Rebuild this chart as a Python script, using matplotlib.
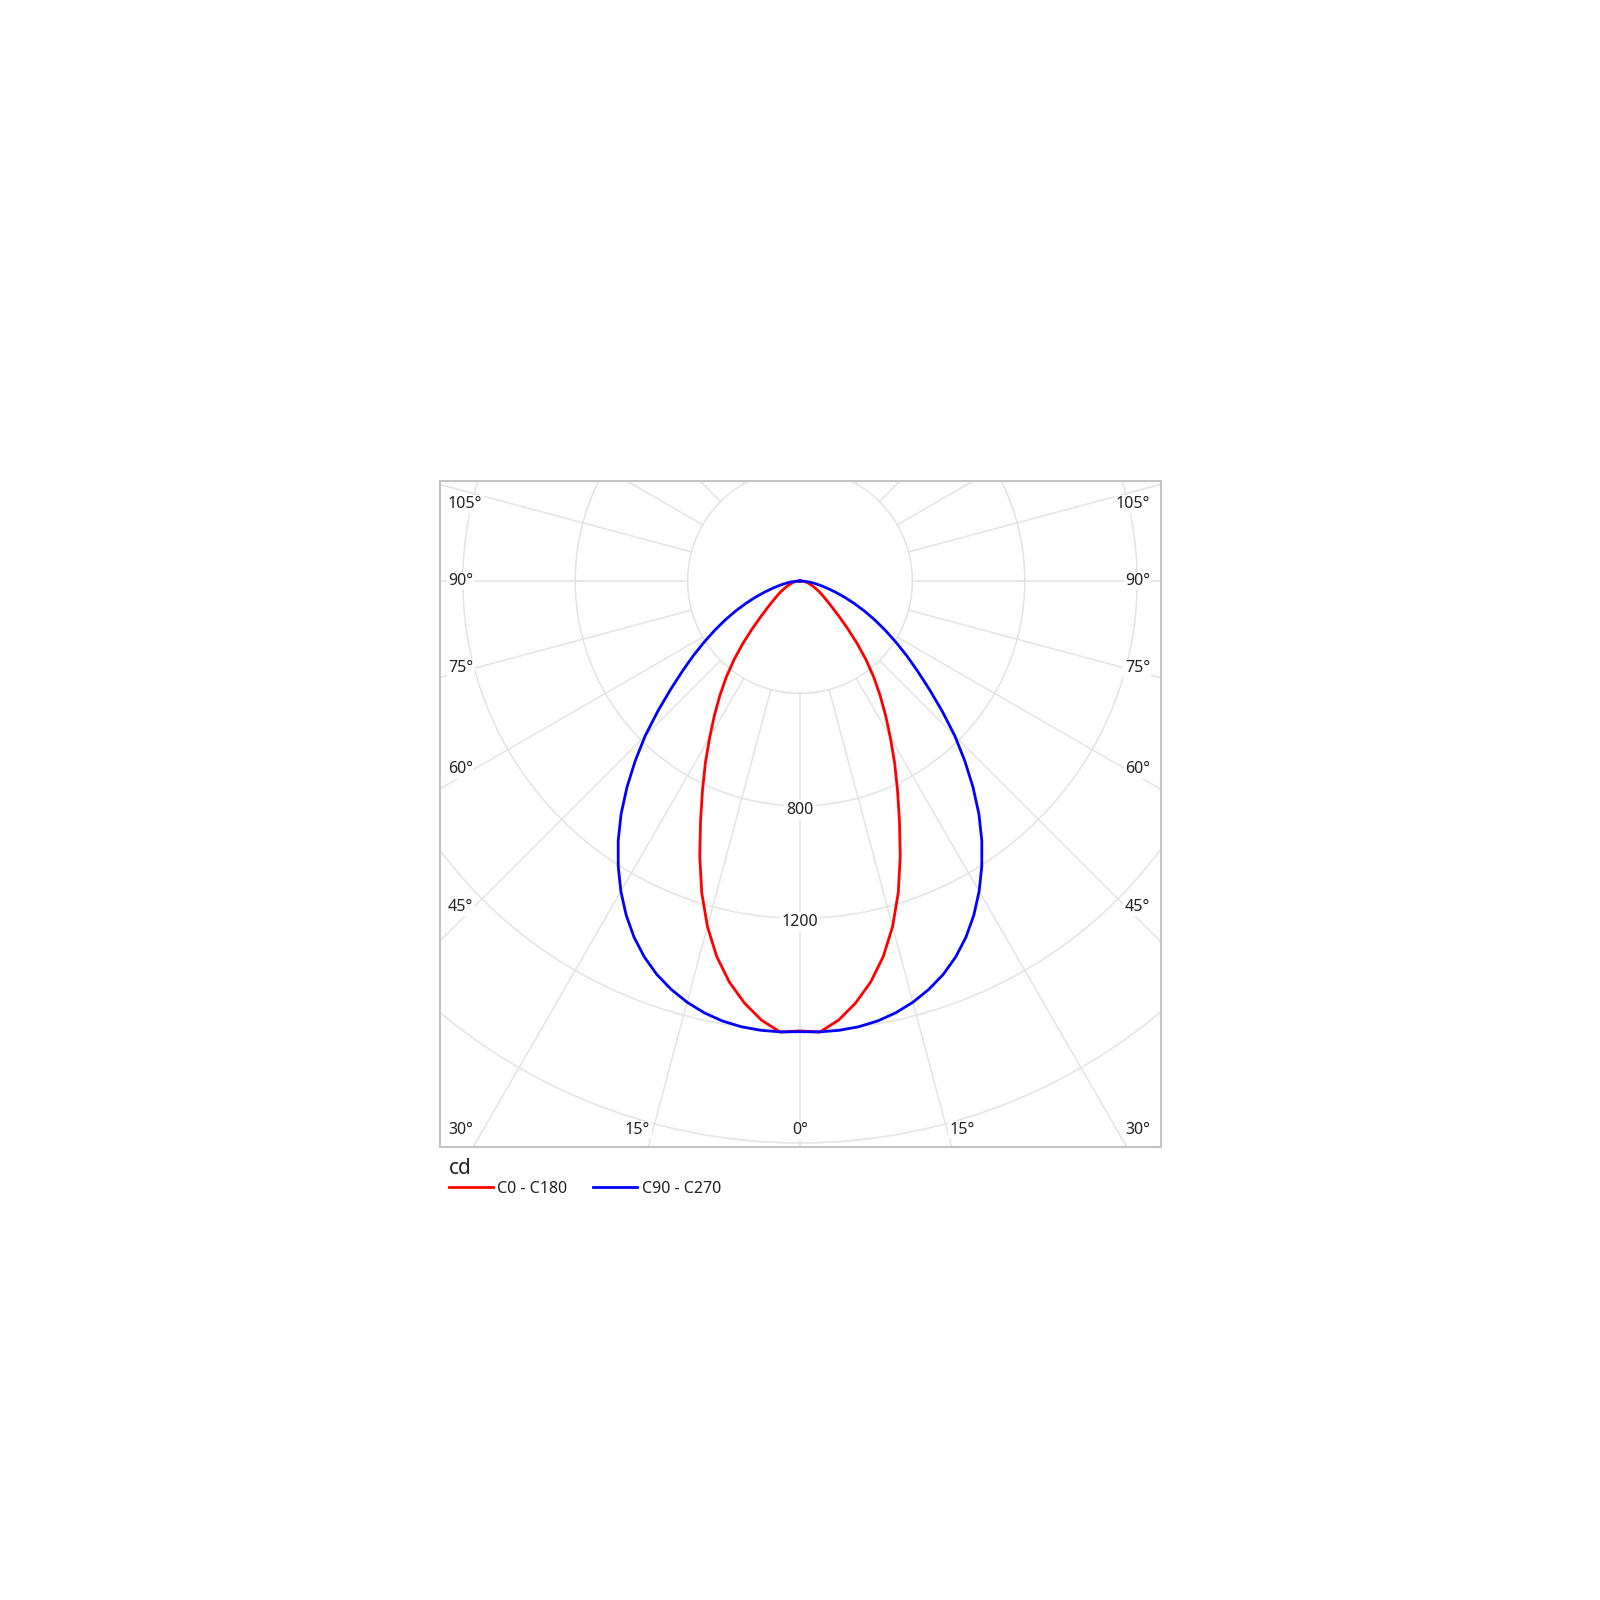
import numpy as np
import matplotlib
matplotlib.use('Agg')
import matplotlib.pyplot as plt
from matplotlib.patches import Circle

# luminous intensity (cd) vs gamma angle, 0 = straight down, symmetric halves
gamma = np.arange(0, 92.5, 2.5)
c0_c180 = [1601, 1607, 1569, 1515, 1449, 1369, 1273, 1163, 1043, 925,
           821, 729, 643, 567, 497, 431, 365, 300, 240, 192,
           156, 130, 110, 95, 82, 70, 60, 50, 43, 37,
           32, 27, 22, 17, 11, 6, 0]
c90_c270 = [1604, 1606, 1605, 1600, 1590, 1574, 1552, 1524, 1490, 1448,
            1398, 1340, 1275, 1204, 1128, 1046, 958, 868, 779, 687,
            602, 528, 464, 404, 350, 300, 253, 209, 169, 133,
            102, 77, 57, 40, 25, 12, 0]
series_names = ['C0 - C180', 'C90 - C270']
series_colors = ['#ff0000', '#0000ff']

ring_values = [400, 800, 1200, 1600, 2000, 2400, 2800]
ring_labels = [800, 1200]
angle_ticks = [0, 15, 30, 45, 60, 75, 90, 105]

S = 0.281          # pixels per cd
GRID = '#e3e3e3'
TXT = '#222222'
FONT = ['Noto Sans', 'DejaVu Sans']

plt.rcParams['font.family'] = FONT

fig = plt.figure(figsize=(16, 16), dpi=100)
ax = fig.add_axes([440 / 1600, 1 - 1147 / 1600, 721 / 1600, 666 / 1600])
ax.set_xlim(-360 / S, 361 / S)
ax.set_ylim(-566 / S, 100 / S)
ax.set_xticks([])
ax.set_yticks([])
for sp in ax.spines.values():
    sp.set_color('#c4c4c4')
    sp.set_linewidth(1.5)


def to_xy(theta_deg, r):
    t = np.radians(theta_deg)
    return np.asarray(r) * np.sin(t), -np.asarray(r) * np.cos(t)


# polar grid
for rv in ring_values:
    ax.add_patch(Circle((0, 0), rv, fill=False, ec=GRID, lw=1.1, zorder=1))
for a in range(0, 360, 15):
    x, y = to_xy(a, [ring_values[0], 4000])
    ax.plot(x, y, color=GRID, lw=1.1, zorder=1)

# ring value labels (sit a little below their ring)
for rv in ring_labels:
    ax.text(0, -rv - 4 / S, str(rv), ha='center', va='center', fontsize=11.5,
            color=TXT, bbox=dict(fc='white', ec='none', pad=1.5), zorder=2)

# angle labels along the frame
hx, hy = 326 / S, 606 / S
for a in angle_ticks:
    sides = [1] if a == 0 else [-1, 1]
    for side in sides:
        t = np.radians(a)
        tx = hx / np.sin(t) if np.sin(t) > 1e-9 else np.inf
        ty = hy / np.cos(t) if np.cos(t) > 1e-9 else np.inf
        if tx < ty:
            y = -tx * np.cos(t)
            y = min(max(y, -549 / S), 77 / S)
            if side < 0:
                x, ha = -352 / S, 'left'
            else:
                x, ha = 350 / S, 'right'
        else:
            x, y, ha = side * ty * np.sin(t), -549 / S, 'center'
        ax.text(x, y, '%d°' % a, ha=ha, va='center', fontsize=11.5, color=TXT,
                bbox=dict(fc='white', ec='none', pad=1.0), zorder=2)

# intensity curves
for vals, name, col in zip([c0_c180, c90_c270], series_names, series_colors):
    th = np.concatenate([-gamma[::-1], gamma[1:]])
    rr = np.concatenate([np.array(vals)[::-1], np.array(vals)[1:]])
    x, y = to_xy(th, rr)
    ax.plot(x, y, color=col, lw=2.0, label=name, zorder=3, solid_joinstyle='round')

leg = ax.legend(title='cd', loc='upper left', bbox_to_anchor=(0.012, -0.017),
                ncol=2, frameon=False, alignment='left', fontsize=11.5,
                title_fontsize=15, handlelength=2.75, handletextpad=0.3,
                columnspacing=1.6, labelspacing=0.1, borderaxespad=0, borderpad=0)
for txt in leg.get_texts():
    txt.set_color(TXT)
leg.get_title().set_color(TXT)

fig.savefig('out.png', dpi=100, facecolor='white')
